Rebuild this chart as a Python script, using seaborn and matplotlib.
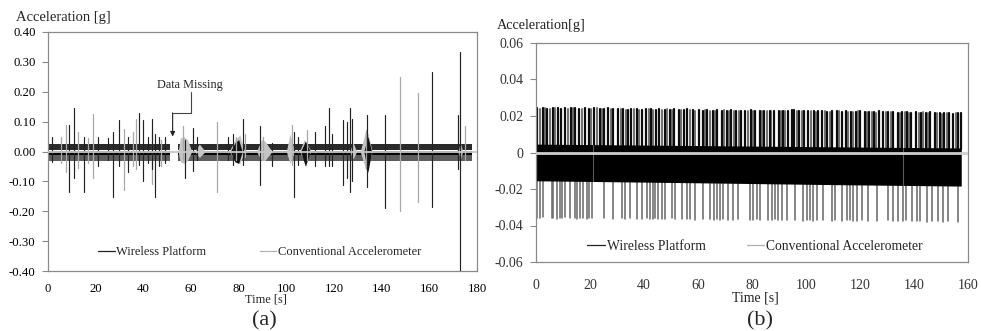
import numpy as np
import pandas as pd
import matplotlib
matplotlib.use("Agg")
import matplotlib.pyplot as plt
import seaborn as sns
from matplotlib.lines import Line2D

# ---------------- data : panel (a) ----------------
xticks_a = [0, 20, 40, 60, 80, 100, 120, 140, 160, 180]
yticks_a = [-0.40, -0.30, -0.20, -0.10, 0.00, 0.10, 0.20, 0.30, 0.40]
ytick_labels_a = ["-0.40", "-0.30", "-0.20", "-0.10", "0.00", "0.10", "0.20", "0.30", "0.40"]

# wireless platform: continuous band segments (data missing between them)
wl_seg_start = [0.0, 54.7]
wl_seg_end = [51.2, 177.8]

# wireless platform spikes (time, max, min)
wl_spike_t = [1.5, 8.9, 11.0, 15.2, 21.1, 25.0, 27.4, 29.8, 33.7, 38.3, 40.0, 42.1, 43.8,
              44.9, 46.7, 49.1, 57.5, 60.7, 62.5, 75.7, 77.8, 82.0, 89.0, 94.0, 103.4,
              105.0, 112.0, 116.2, 117.9, 119.0, 123.9, 125.3, 126.7, 127.7, 134.0,
              141.4, 161.0, 172.2, 172.9]
wl_spike_hi = [0.05, 0.089, 0.146, 0.05, 0.05, 0.045, 0.066, 0.105, 0.05, 0.128, 0.105, 0.05, 0.11,
               0.06, 0.05, 0.05, 0.04, 0.078, 0.05, 0.05, 0.06, 0.11, 0.085, 0.03, 0.066,
               0.05, 0.066, 0.085, 0.144, 0.06, 0.105, 0.098, 0.145, 0.11, 0.122,
               0.122, 0.267, 0.122, 0.334]
wl_spike_lo = [-0.034, -0.134, -0.09, -0.134, -0.05, -0.03, -0.151, -0.05, -0.07, -0.045, -0.10, -0.04, -0.06,
               -0.153, -0.05, -0.04, -0.09, -0.065, -0.03, -0.03, -0.045, -0.045, -0.112, -0.05, -0.151,
               -0.045, -0.05, -0.05, -0.05, -0.05, -0.112, -0.09, -0.134, -0.10, -0.118,
               -0.19, -0.185, -0.06, -0.45]

# wireless platform bursts (envelope)
wl_burst_t = [76.5, 78.5, 80.0, 81.5, 106.0, 108.0, 110.0, 132.5, 134.2, 135.8]
wl_burst_hi = [0.0, 0.03, 0.04, 0.0, 0.0, 0.035, 0.0, 0.0, 0.05, 0.0]
wl_burst_lo = [0.0, -0.035, -0.04, 0.0, 0.0, -0.05, 0.0, 0.0, -0.07, 0.0]

# conventional accelerometer: baseline, spikes, bursts
conv_a_t = [0.0, 180.0]
conv_a_v = [0.0, 0.0]
conv_spike_t = [5.5, 7.4, 12.7, 16.9, 19.0, 31.8, 35.8, 37.0, 43.5, 47.5, 56.5, 70.8, 79.0,
                82.5, 90.0, 102.3, 108.5, 133.5, 147.7, 155.4, 175.0]
conv_spike_hi = [0.05, 0.089, 0.066, 0.045, 0.125, 0.076, 0.066, 0.11, 0.07, 0.04, 0.084, 0.098, 0.05,
                 0.06, 0.05, 0.089, 0.072, 0.072, 0.25, 0.195, 0.085]
conv_spike_lo = [-0.04, -0.07, -0.056, -0.04, -0.09, -0.13, -0.05, -0.06, -0.11, -0.05, -0.03, -0.134, -0.03,
                 -0.02, -0.03, -0.045, -0.03, -0.06, -0.2, -0.168, -0.03]
conv_burst_t = [54.6, 55.5, 57.0, 58.5, 60.3, 61.5, 63.5, 66.0, 76.0, 78.5, 80.5, 82.5,
                87.5, 89.5, 91.0, 94.0, 100.0, 101.5, 103.5, 105.5, 107.5, 110.5,
                126.5, 128.0, 129.5, 131.0, 133.3, 134.3, 136.0, 172.0, 173.0, 174.0]
conv_burst_hi = [0, 0.045, 0.05, 0.04, 0, 0, 0.025, 0, 0, 0.04, 0.055, 0,
                 0, 0.04, 0.035, 0, 0, 0.06, 0, 0, 0.04, 0,
                 0, 0.03, 0, 0, 0.07, 0.06, 0, 0, 0.03, 0]
conv_burst_lo = [0, -0.035, -0.04, -0.03, 0, 0, -0.02, 0, 0, -0.03, -0.04, 0,
                 0, -0.03, -0.03, 0, 0, -0.04, 0, 0, -0.03, 0,
                 0, -0.025, 0, 0, -0.06, -0.05, 0, 0, -0.025, 0]

# ---------------- data : panel (b) ----------------
xticks_b = [0, 20, 40, 60, 80, 100, 120, 140, 160]
yticks_b = [-0.06, -0.04, -0.02, 0.0, 0.02, 0.04, 0.06]
ytick_labels_b = ["-0.06", "-0.04", "-0.02", "0", "0.02", "0.04", "0.06"]

band_b_t = [0.0, 60.0, 110.0, 157.5]
band_b_top = [0.0046, 0.0038, 0.0031, 0.0025]
band_b_bot = [-0.0155, -0.0166, -0.0176, -0.0184]
band_b_gap_t = [21.2, 135.8]

conv_b_t = [0.0, 160.0]
conv_b_v = [0.0, 0.0]

up_black_t = [0.4, 2.6, 4.1, 6.3, 8.0, 9.2, 10.9, 12.8, 14.5, 15.9, 18.1, 19.6, 21.5, 23.6, 25.0, 26.8, 28.7,
              30.2, 32.4, 34.0, 35.3, 37.5, 39.1, 40.8, 42.6, 44.3, 45.6, 47.7, 49.5, 51.0, 52.9, 54.8, 56.1, 58.0,
              60.2, 61.7, 63.4, 65.6, 67.0, 68.9, 70.7, 72.4, 74.1, 76.0, 77.4, 79.5, 81.2, 82.8, 84.6, 86.5, 88.0,
              89.9, 91.6, 93.3, 94.9, 95.6, 97.5, 99.4, 100.9, 102.8, 104.6, 106.0, 107.9, 109.7, 111.3, 113.2, 114.8, 116.5,
              118.4, 120.0, 121.9, 123.5, 125.2, 127.1, 128.6, 130.5, 132.2, 133.9, 135.5, 137.4, 139.0, 140.9, 142.5,
              144.3, 146.0, 147.8, 149.5, 151.2, 153.0, 154.6, 156.4, 157.3]
up_black_v = [0.0245, 0.0245, 0.024, 0.0245, 0.0245, 0.024, 0.0245, 0.0245, 0.0245, 0.024, 0.0245, 0.024, 0.0245, 0.024, 0.024, 0.0245, 0.024,
              0.024, 0.024, 0.0235, 0.024, 0.024, 0.0235, 0.024, 0.024, 0.0235, 0.024, 0.0235, 0.0235, 0.024, 0.0235, 0.0235, 0.024, 0.0235,
              0.0235, 0.023, 0.0235, 0.023, 0.0235, 0.023, 0.023, 0.0235, 0.023, 0.023, 0.023, 0.0235, 0.023, 0.023, 0.023, 0.0225, 0.023,
              0.023, 0.0225, 0.023, 0.0235, 0.0235, 0.0225, 0.0225, 0.023, 0.0225, 0.0225, 0.0225, 0.022, 0.0225, 0.0225, 0.022, 0.0225, 0.022,
              0.022, 0.0225, 0.022, 0.022, 0.022, 0.0225, 0.022, 0.022, 0.022, 0.0215, 0.022, 0.022, 0.0215, 0.022, 0.0215,
              0.0215, 0.022, 0.0215, 0.0215, 0.0215, 0.0215, 0.021, 0.0215, 0.0215]
up_gray_t = [1.5, 3.3, 5.2, 7.1, 11.8, 13.6, 17.0, 20.5, 22.6, 24.3, 27.7,
             31.3, 33.2, 36.4, 38.3, 41.7, 43.4, 46.7, 48.6, 50.2, 53.8, 57.1, 59.0,
             62.5, 64.5, 66.3, 69.8, 71.5, 73.2, 75.1, 78.5, 80.3, 83.7, 85.5, 87.2,
             90.7, 92.4, 96.5, 98.4, 101.8, 103.7, 107.0, 108.8, 112.2, 115.6, 117.4, 119.2,
             122.7, 124.3, 126.1, 129.6, 131.3, 134.7, 136.5, 138.2, 141.7, 143.4, 145.1, 148.6, 150.3, 152.1, 155.5]
up_gray_v = [0.024, 0.0245, 0.024, 0.0245, 0.024, 0.0245, 0.024, 0.024, 0.0245, 0.024, 0.024,
             0.024, 0.0235, 0.024, 0.0235, 0.024, 0.0235, 0.0235, 0.024, 0.0235, 0.0235, 0.0235, 0.023,
             0.0235, 0.023, 0.023, 0.0235, 0.023, 0.023, 0.0225, 0.023, 0.023, 0.0225, 0.023, 0.023,
             0.0225, 0.023, 0.0225, 0.023, 0.0225, 0.022, 0.0225, 0.022, 0.0225, 0.022, 0.022, 0.0225,
             0.022, 0.022, 0.0215, 0.022, 0.022, 0.0215, 0.022, 0.0215, 0.0215, 0.022, 0.0215, 0.0215, 0.021, 0.0215, 0.0215]
down_t = [0.2, 1.5, 2.7, 5.8, 6.4, 7.7, 8.9, 9.5, 10.7, 12.6, 14.4, 15.3, 16.3, 17.3, 18.8, 19.8, 20.6, 25.0,
          28.4, 31.7, 33.0, 34.8, 37.3, 39.1, 41.0, 42.2, 43.5, 44.1, 45.3, 46.5, 47.8, 50.2, 51.5, 53.9, 55.8,
          57.0, 58.9, 62.0, 64.4, 65.9, 66.9, 68.1, 69.4, 71.2, 73.1, 74.9, 79.3, 80.5, 81.7, 83.0, 86.0, 87.3,
          88.5, 89.8, 91.0, 92.8, 95.9, 99.0, 100.2, 101.5, 102.7, 103.9, 106.4, 109.5, 110.7, 113.2, 115.0,
          116.3, 117.5, 118.8, 120.6, 123.1, 126.2, 130.5, 132.3, 134.2, 136.0, 137.2, 139.1, 141.0, 142.2,
          144.7, 146.5, 149.0, 150.8, 152.7, 156.4]
down_v = [-0.036, -0.036, -0.0355, -0.036, -0.036, -0.0365, -0.036, -0.036, -0.0355, -0.036, -0.036, -0.0365,
          -0.036, -0.036, -0.0365, -0.036, -0.036, -0.036, -0.0365, -0.036, -0.0365, -0.036, -0.0365, -0.0365,
          -0.036, -0.0365, -0.0365, -0.036, -0.0365, -0.0365, -0.0365, -0.036, -0.0365, -0.0365, -0.0365,
          -0.0365, -0.037, -0.0365, -0.0365, -0.037, -0.0365, -0.037, -0.0365, -0.037, -0.037, -0.0365, -0.037,
          -0.037, -0.0365, -0.037, -0.037, -0.037, -0.0365, -0.037, -0.037, -0.037, -0.037, -0.0375, -0.037,
          -0.037, -0.0375, -0.037, -0.037, -0.0375, -0.037, -0.0375, -0.037, -0.037, -0.0375, -0.0375, -0.037,
          -0.0375, -0.0375, -0.037, -0.0375, -0.0375, -0.0375, -0.037, -0.0375, -0.0375, -0.0375, -0.038,
          -0.0375, -0.0375, -0.038, -0.0375, -0.038]

# ---------------- styling ----------------
sns.set_theme(style="white")
plt.rcParams["font.family"] = ["Liberation Serif", "DejaVu Serif"]
plt.rcParams["axes.unicode_minus"] = False

SPINE = "#8a8a8a"


def spike_frame(times, hi, lo):
    rows = []
    for i, (t, h, l) in enumerate(zip(times, hi, lo)):
        rows.append((i, t, l))
        rows.append((i, t, h))
    return pd.DataFrame(rows, columns=["id", "t", "v"])


def draw_spikes(ax, times, hi, lo, color, lw, z):
    df = spike_frame(times, hi, lo)
    sns.lineplot(data=df, x="t", y="v", units="id", estimator=None, sort=False,
                 color=color, lw=lw, ax=ax, legend=False, zorder=z)


def style_axes(ax, fs, xpad, ypad):
    for s in ax.spines.values():
        s.set_visible(True)
        s.set_color(SPINE)
        s.set_linewidth(0.9)
    ax.tick_params(axis="y", which="both", left=True, length=4, width=0.8, color=SPINE,
                   labelsize=fs, pad=ypad, direction="out", labelcolor="black")
    ax.tick_params(axis="x", which="both", bottom=False, length=0, labelsize=fs, pad=xpad,
                   labelcolor="black")
    ax.set_xlabel("")
    ax.set_ylabel("")
    ax.grid(False)


fig = plt.figure(figsize=(9.81, 3.31), dpi=100)
axa = fig.add_axes([48 / 981, 60 / 331, 429 / 981, 239 / 331])
axb = fig.add_axes([536 / 981, 69 / 331, 432 / 981, 219 / 331])

# ---------------- panel (a) ----------------
for s0, s1 in zip(wl_seg_start, wl_seg_end):
    axa.fill_between([s0, s1], [0.006, 0.006], [0.025, 0.025], color="#2a2a2a", lw=0, zorder=2)
    axa.fill_between([s0, s1], [-0.012, -0.012], [0.002, 0.002], color="#050505", lw=0, zorder=2)
    axa.fill_between([s0, s1], [-0.031, -0.031], [-0.012, -0.012], color="#5e5e5e", lw=0, zorder=1.5)

axa.fill_between(conv_burst_t, conv_burst_lo, conv_burst_hi, color="#c4c4c4", lw=0, zorder=2.5)
axa.fill_between(wl_burst_t, wl_burst_lo, wl_burst_hi, color="#111111", lw=0, zorder=2.6)
draw_spikes(axa, conv_spike_t, conv_spike_hi, conv_spike_lo, "#a8a8a8", 0.9, 3)
draw_spikes(axa, wl_spike_t, wl_spike_hi, wl_spike_lo, "#222222", 0.85, 3.2)
sns.lineplot(x=conv_a_t, y=conv_a_v, color="#c8c8c8", lw=1.3, ax=axa, zorder=3.5)

axa.set_xlim(0, 180)
axa.set_ylim(-0.40, 0.40)
axa.set_xticks(xticks_a)
axa.set_xticklabels([str(v) for v in xticks_a])
axa.set_yticks(yticks_a)
axa.set_yticklabels(ytick_labels_a)
style_axes(axa, 9.2, 9, 5)

# data missing annotation
axa.plot([59.9, 59.9, 52.3], [0.20, 0.129, 0.129], color="#444444", lw=0.8, zorder=5)
axa.annotate("", xy=(52.3, 0.05), xytext=(52.3, 0.129),
             arrowprops=dict(arrowstyle="-|>", color="#222222", lw=0.8,
                             mutation_scale=7, shrinkA=0, shrinkB=0), zorder=5)
axa.text(59.6, 0.222, "Data Missing", ha="center", va="center", fontsize=8.8)

ha = [Line2D([], [], color="#222222", lw=0.9), Line2D([], [], color="#b0b0b0", lw=0.9)]
axa.legend(ha, ["Wireless Platform", "Conventional Accelerometer"], loc="center",
           bbox_to_anchor=(0.494, 0.08), ncol=2, frameon=False, fontsize=9,
           handlelength=1.3, handletextpad=0.15, columnspacing=4.3)

# ---------------- panel (b) ----------------
axb.fill_between(band_b_t, band_b_bot, band_b_top, color="#000000", lw=0, zorder=2)
draw_spikes(axb, down_t, [-0.012] * len(down_t), down_v, "#666666", 1.1, 1.8)
draw_spikes(axb, up_gray_t, [0.002] * len(up_gray_t), up_gray_v, "#707070", 1.4, 1.8)
draw_spikes(axb, up_black_t, [0.002] * len(up_black_t), up_black_v, "#0c0c0c", 1.6, 1.9)
draw_spikes(axb, band_b_gap_t, [0.004, 0.0025], [-0.0155, -0.018], "#5a5a5a", 0.8, 2.2)
sns.lineplot(x=conv_b_t, y=conv_b_v, color="#cfcfcf", lw=2.0, ax=axb, zorder=3)

axb.set_xlim(0, 160)
axb.set_ylim(-0.06, 0.06)
axb.set_xticks(xticks_b)
axb.set_xticklabels([str(v) for v in xticks_b])
axb.set_yticks(yticks_b)
axb.set_yticklabels(ytick_labels_b)
style_axes(axb, 10, 12, 5)
for lab in axb.get_xticklabels() + axb.get_yticklabels():
    lab.set_color("#333333")

hb = [Line2D([], [], color="#222222", lw=0.9), Line2D([], [], color="#b0b0b0", lw=0.9)]
axb.legend(hb, ["Wireless Platform", "Conventional Accelerometer"], loc="center",
           bbox_to_anchor=(0.507, 0.073), ncol=2, frameon=False, fontsize=9.8,
           handlelength=1.3, handletextpad=0.15, columnspacing=3.0)

# ---------------- labels ----------------
fig.text(16 / 981, 1 - 18 / 331, "Acceleration [g]", ha="left", va="center", fontsize=10.5)
fig.text(497 / 981, 1 - 25 / 331, "Acceleration[g]", ha="left", va="center", fontsize=10.3, color="#222222")
fig.text(266 / 981, 1 - 300 / 331, "Time [s]", ha="center", va="center", fontsize=8.8)
fig.text(755 / 981, 1 - 298 / 331, "Time [s]", ha="center", va="center", fontsize=10, color="#222222")
fig.text(264 / 981, 1 - 321 / 331, "(a)", ha="center", va="center", fontsize=16)
fig.text(760 / 981, 1 - 321 / 331, "(b)", ha="center", va="center", fontsize=16)

fig.savefig("out.png", dpi=100)
